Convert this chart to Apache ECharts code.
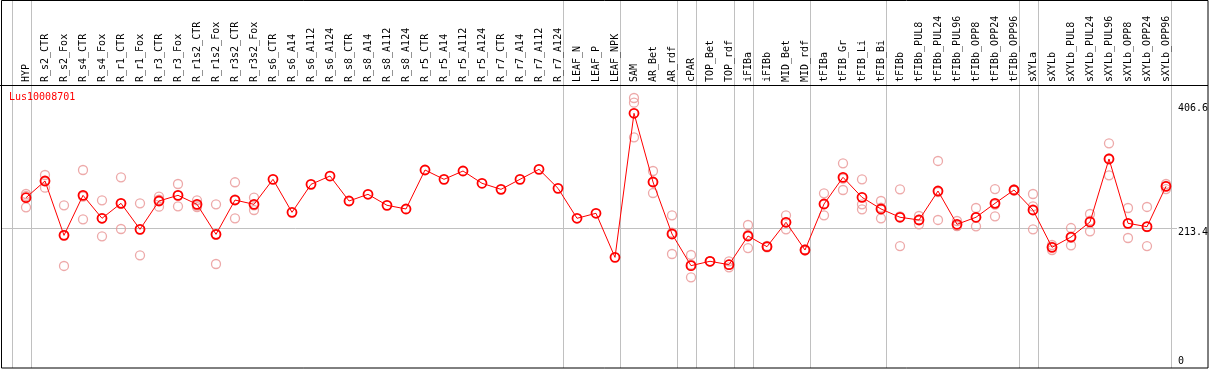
<!DOCTYPE html>
<html>
<head>
<meta charset="utf-8">
<script src="https://cdn.jsdelivr.net/npm/echarts@6/dist/echarts.min.js"></script>
<style>
html,body{margin:0;padding:0;background:#fff;}
#chart{width:1209px;height:370px;}
</style>
</head>
<body>
<div id="chart"></div>
<script>
const geneId = 'Lus10008701';
const categories = ['HYP','R_s2_CTR','R_s2_Fox','R_s4_CTR','R_s4_Fox','R_r1_CTR','R_r1_Fox','R_r3_CTR','R_r3_Fox','R_r1s2_CTR','R_r1s2_Fox','R_r3s2_CTR','R_r3s2_Fox','R_s6_CTR','R_s6_A14','R_s6_A112','R_s6_A124','R_s8_CTR','R_s8_A14','R_s8_A112','R_s8_A124','R_r5_CTR','R_r5_A14','R_r5_A112','R_r5_A124','R_r7_CTR','R_r7_A14','R_r7_A112','R_r7_A124','LEAF_N','LEAF_P','LEAF_NPK','SAM','AR_Bet','AR_rdf','cPAR','TOP_Bet','TOP_rdf','iFIBa','iFIBb','MID_Bet','MID_rdf','tFIBa','tFIB_Gr','tFIB_Li','tFIB_Bi','tFIBb','tFIBb_PUL8','tFIBb_PUL24','tFIBb_PUL96','tFIBb_OPP8','tFIBb_OPP24','tFIBb_OPP96','sXYLa','sXYLb','sXYLb_PUL8','sXYLb_PUL24','sXYLb_PUL96','sXYLb_OPP8','sXYLb_OPP24','sXYLb_OPP96'];
const meanValues = [260.0,286.0,201.5,263.7,228.0,251.3,210.9,254.9,263.7,249.7,203.1,256.4,249.7,288.6,237.3,280.8,293.7,254.9,265.3,248.2,242.5,303.1,288.6,301.5,282.4,273.0,288.6,304.1,274.6,228.0,235.8,167.3,391.2,284.4,203.6,154.4,161.2,155.9,200.5,183.9,221.8,178.7,250.2,291.7,260.6,242.5,229.6,225.4,270.4,218.7,229.6,251.3,272.0,240.9,182.9,198.9,222.3,320.2,220.2,215.0,277.7];
const replicates = [
  [265.8,262.7,245.1],[295.3,275.6,286.0],[248.2,153.9,202.4],[303.1,226.4,261.6],[256.0,200.0,228.0],
  [291.7,211.4,250.8],[251.3,170.5,210.9],[261.6,246.1,257.0],[281.3,246.6,263.2],[256.0,247.6,245.5],
  [249.7,157.0,202.6],[284.0,228.0,257.2],[260.0,240.9,248.2],
  [],[],[],[],[],[],[],[],[],[],[],[],[],[],[],[],[],[],[],
  [415.0,407.7,353.9],[301.5,267.3,284.4],[232.7,172.5,205.6],[171.0,136.3,155.9],[161.2,161.2,161.2],
  [161.2,151.8,155.9],[217.6,181.8,202.1],[183.0,185.0,183.9],[232.7,210.9,221.8],[178.0,179.5,178.7],
  [266.9,232.7,250.2],[313.5,272.0,289.6],[288.6,249.7,242.0],[254.9,228.0,244.6],[273.0,184.9,230.9],
  [231.6,218.7,225.9],[317.1,225.4,268.7],[223.8,216.0,216.3],[244.0,215.6,229.2],[273.5,231.1,249.3],
  [273.0,271.0,272.0],[265.8,246.6,210.9],[186.5,178.7,183.5],[212.9,186.0,197.8],[234.7,207.8,224.4],
  [344.6,294.8,321.2],[244.0,197.4,219.2],[245.6,184.9,214.5],[281.3,273.5,278.3]
];
const yTicks = [0, 213.4, 406.6];
const gridLineValue = 213.4;
const groupEnds = [-1, 0, 28, 31, 34, 35, 37, 38, 41, 45, 52, 53, 60];

// layout (pixels)
const W = 1209, H = 370;
const plotL = 2, plotR = 1208, plotT = 85, plotB = 368;
const x0 = 26, step = 19;           // pixel of first category, spacing
const yZero = 365, yScale = 0.6434; // pixel of value 0, px per unit
const sepOffset = 0.245;

const FONT = 'DejaVu Sans Mono';
const RED = '#ff0000';
const PINK = '#e99494';

const repData = [];
replicates.forEach((arr, i) => arr.forEach(v => repData.push([i, v])));
const meanData = meanValues.map((v, i) => [i, v]);

const chart = echarts.init(document.getElementById('chart'), null, {renderer: 'canvas'});
const option = {
  animation: false,
  backgroundColor: '#fff',
  grid: {left: plotL, right: W - plotR, top: plotT, bottom: H - plotB, containLabel: false},
  xAxis: {
    type: 'value', position: 'top',
    min: (plotL - x0) / step, max: (plotR - x0) / step,
    axisLine: {show: false}, axisTick: {show: false}, splitLine: {show: false},
    axisLabel: {
      show: true, rotate: 90, margin: 3,
      customValues: categories.map((c, i) => i),
      formatter: v => categories[Math.round(v)] || '',
      fontFamily: FONT, fontSize: 10, color: '#000'
    }
  },
  yAxis: {
    type: 'value',
    min: (yZero - plotB) / yScale, max: (yZero - plotT) / yScale,
    axisLine: {show: false}, axisTick: {show: false}, splitLine: {show: false}, axisLabel: {show: false}
  },
  series: [
    {
      type: 'scatter', data: repData, symbol: 'circle', symbolSize: 9, z: 3,
      itemStyle: {color: 'rgba(255,255,255,0)', borderColor: PINK, borderWidth: 1.3},
      silent: true
    },
    {
      type: 'line', data: meanData, symbol: 'circle', symbolSize: 9, showAllSymbol: true, z: 4,
      lineStyle: {color: RED, width: 1},
      itemStyle: {color: 'rgba(255,255,255,0)', borderColor: RED, borderWidth: 1.8},
      silent: true
    }
  ]
};
chart.setOption(option);

function px(i, v) { return chart.convertToPixel({gridIndex: 0}, [i, v]); }
const g = [];
// group separators (full height)
groupEnds.forEach(e => {
  const x = Math.round(px(e + sepOffset, 0)[0]) + 0.5;
  g.push({type: 'line', z: 0, shape: {x1: x, y1: 0, x2: x, y2: plotB}, style: {stroke: '#c0c0c0', lineWidth: 1}});
});
// horizontal grid line
const gy = Math.round(px(0, gridLineValue)[1]) + 0.5;
g.push({type: 'line', z: 0, shape: {x1: plotL, y1: gy, x2: 1177, y2: gy}, style: {stroke: '#c0c0c0', lineWidth: 1}});
// frame
g.push({type: 'rect', z: 10, shape: {x: 1.5, y: 0.5, width: plotR - 1.5, height: plotB - 0.5}, style: {fill: 'none', stroke: '#000', lineWidth: 1}});
g.push({type: 'line', z: 10, shape: {x1: 0, y1: plotT + 0.5, x2: plotR, y2: plotT + 0.5}, style: {stroke: '#000', lineWidth: 1}});
// y tick labels
yTicks.forEach(t => {
  const y = px(0, t)[1];
  g.push({type: 'text', z: 10, x: 1178, y: t === 0 ? y + 1 : y,
    style: {text: String(t), fontFamily: FONT, fontSize: 10, fill: '#000', align: 'left', verticalAlign: t === 0 ? 'bottom' : 'top'}});
});
// gene id
g.push({type: 'text', z: 10, x: 9, y: 92, style: {text: geneId, fontFamily: FONT, fontSize: 10, fill: RED, align: 'left', verticalAlign: 'top'}});
chart.setOption({graphic: g});
</script>
</body>
</html>
